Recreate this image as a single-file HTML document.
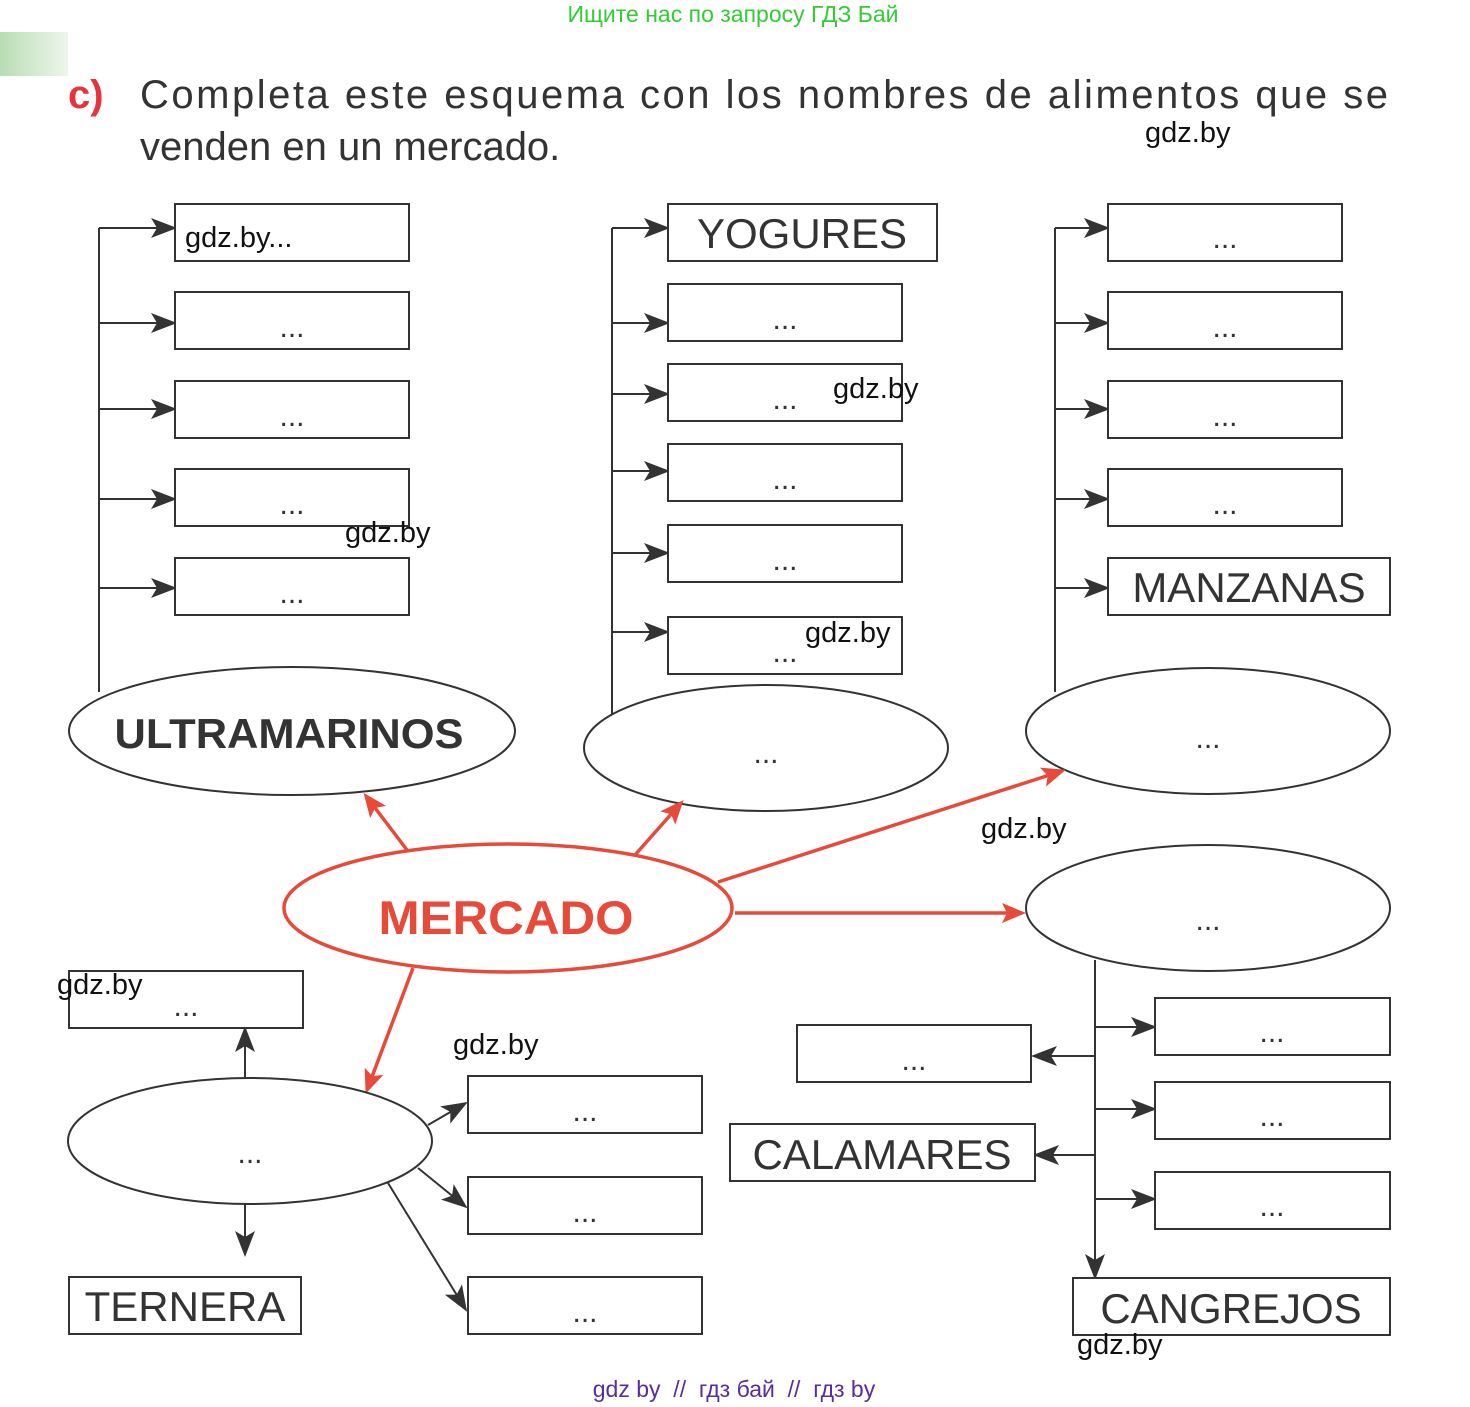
<!DOCTYPE html>
<html><head><meta charset="utf-8"><style>
html,body{margin:0;padding:0;background:#fff;}
svg{display:block;}
text{font-family:"Liberation Sans",Arial,sans-serif;}
</style></head><body>
<svg width="1470" height="1407" viewBox="0 0 1470 1407" xmlns="http://www.w3.org/2000/svg">
<defs>
<linearGradient id="g" x1="0" x2="1"><stop offset="0" stop-color="#b9dcb4"/><stop offset="1" stop-color="#eef6ec"/></linearGradient>
<marker id="ra" markerWidth="24" markerHeight="24" refX="20" refY="10" orient="auto" markerUnits="userSpaceOnUse" viewBox="0 0 24 20"><path d="M0,0 L24,10 L0,20 L5,10 z" fill="#e84a3a"/></marker>
<marker id="ka" markerWidth="26" markerHeight="22" refX="24" refY="10" orient="auto" markerUnits="userSpaceOnUse" viewBox="0 0 26 20"><path d="M0,0 L26,10 L0,20 L6,10 z" fill="#333"/></marker>
</defs>
<style>
.k{stroke:#333;stroke-width:2;fill:none}
.b{stroke:#333;stroke-width:2;fill:#fff}
.r{stroke:#e84a3a;stroke-width:3.5;fill:none}
.d{font-size:30px;fill:#333;text-anchor:middle}
.w{font-size:29px;fill:#111}
.L{font-size:42px;fill:#333;text-anchor:middle}
</style>
<rect x="0" y="32" width="68" height="44" fill="url(#g)"/>
<text x="733" y="22" font-size="23" fill="#33cc33" text-anchor="middle">Ищите нас по запросу ГДЗ Бай</text>
<text x="68" y="108" font-size="40" font-weight="bold" fill="#e8323c">c)</text>
<text x="140" y="108" font-size="40" fill="#333" textLength="1248" lengthAdjust="spacing">Completa  este esquema con los nombres de alimentos que se</text>
<text x="140" y="160" font-size="40" fill="#333">venden en un mercado.</text>

<path class="k" d="M99,228 V692"/>
<path class="k" d="M99,228 H175" marker-end="url(#ka)"/><path class="k" d="M99,323 H175" marker-end="url(#ka)"/><path class="k" d="M99,409 H175" marker-end="url(#ka)"/><path class="k" d="M99,499 H175" marker-end="url(#ka)"/><path class="k" d="M99,588 H175" marker-end="url(#ka)"/>
<rect class="b" x="175" y="204" width="234" height="57"/><rect class="b" x="175" y="292" width="234" height="57"/><rect class="b" x="175" y="381" width="234" height="57"/><rect class="b" x="175" y="469" width="234" height="57"/><rect class="b" x="175" y="558" width="234" height="57"/>
<text class="w" x="185" y="247">gdz.by...</text>
<text class="d" x="292" y="337">...</text><text class="d" x="292" y="426">...</text><text class="d" x="292" y="514">...</text><text class="d" x="292" y="603">...</text>
<ellipse class="b" cx="292" cy="731" rx="223" ry="64"/>
<text x="289" y="748" font-size="42" font-weight="bold" fill="#333" text-anchor="middle" textLength="349" lengthAdjust="spacingAndGlyphs">ULTRAMARINOS</text>

<path class="k" d="M612,228 V714"/>
<path class="k" d="M612,228 H668" marker-end="url(#ka)"/><path class="k" d="M612,323 H668" marker-end="url(#ka)"/><path class="k" d="M612,394 H668" marker-end="url(#ka)"/><path class="k" d="M612,471 H668" marker-end="url(#ka)"/><path class="k" d="M612,553 H668" marker-end="url(#ka)"/><path class="k" d="M612,632 H668" marker-end="url(#ka)"/>
<rect class="b" x="668" y="204" width="269" height="57"/><rect class="b" x="668" y="284" width="234" height="57"/><rect class="b" x="668" y="364" width="234" height="57"/><rect class="b" x="668" y="444" width="234" height="57"/><rect class="b" x="668" y="525" width="234" height="57"/><rect class="b" x="668" y="617" width="234" height="57"/>
<text class="L" x="802" y="248">YOGURES</text>
<text class="d" x="785" y="329">...</text><text class="d" x="785" y="409">...</text><text class="d" x="785" y="489">...</text><text class="d" x="785" y="570">...</text><text class="d" x="785" y="662">...</text>
<ellipse class="b" cx="766" cy="748" rx="182" ry="63"/>
<text class="d" x="766" y="763">...</text>

<path class="k" d="M1055,228 V692"/>
<path class="k" d="M1055,228 H1108" marker-end="url(#ka)"/><path class="k" d="M1055,323 H1108" marker-end="url(#ka)"/><path class="k" d="M1055,409 H1108" marker-end="url(#ka)"/><path class="k" d="M1055,499 H1108" marker-end="url(#ka)"/><path class="k" d="M1055,588 H1108" marker-end="url(#ka)"/>
<rect class="b" x="1108" y="204" width="234" height="57"/><rect class="b" x="1108" y="292" width="234" height="57"/><rect class="b" x="1108" y="381" width="234" height="57"/><rect class="b" x="1108" y="469" width="234" height="57"/><rect class="b" x="1108" y="558" width="282" height="57"/>
<text class="d" x="1225" y="248">...</text><text class="d" x="1225" y="337">...</text><text class="d" x="1225" y="426">...</text><text class="d" x="1225" y="514">...</text>
<text class="L" x="1249" y="602">MANZANAS</text>
<ellipse class="b" cx="1208" cy="731" rx="182" ry="63"/>
<text class="d" x="1208" y="748">...</text>

<ellipse cx="508" cy="908" rx="224" ry="64" fill="#fff" stroke="#e84a3a" stroke-width="3.5"/>
<text x="506" y="934" font-size="47" font-weight="bold" fill="#e84a3a" text-anchor="middle" textLength="255" lengthAdjust="spacingAndGlyphs">MERCADO</text>
<path class="r" d="M407,850 L366,796" marker-end="url(#ra)"/>
<path class="r" d="M635,855 L681,803" marker-end="url(#ra)"/>
<path class="r" d="M718,882 L1062,771" marker-end="url(#ra)"/>
<path class="r" d="M735,913 L1022,913" marker-end="url(#ra)"/>
<path class="r" d="M413,968 L367,1090" marker-end="url(#ra)"/>

<ellipse class="b" cx="1208" cy="908" rx="182" ry="63"/>
<text class="d" x="1208" y="930">...</text>
<path class="k" d="M1095,960 V1278" marker-end="url(#ka)"/>
<path class="k" d="M1095,1027 H1155" marker-end="url(#ka)"/><path class="k" d="M1095,1109 H1155" marker-end="url(#ka)"/><path class="k" d="M1095,1199 H1155" marker-end="url(#ka)"/>
<path class="k" d="M1095,1056 H1033" marker-end="url(#ka)"/><path class="k" d="M1095,1155 H1035" marker-end="url(#ka)"/>
<rect class="b" x="1155" y="998" width="235" height="57"/><rect class="b" x="1155" y="1082" width="235" height="57"/><rect class="b" x="1155" y="1172" width="235" height="57"/>
<text class="d" x="1272" y="1042">...</text><text class="d" x="1272" y="1126">...</text><text class="d" x="1272" y="1216">...</text>
<rect class="b" x="797" y="1025" width="234" height="57"/><text class="d" x="914" y="1070">...</text>
<rect class="b" x="730" y="1124" width="305" height="57"/><text class="L" x="882" y="1169">CALAMARES</text>
<rect class="b" x="1073" y="1278" width="317" height="57"/><text class="L" x="1231" y="1323">CANGREJOS</text>

<ellipse class="b" cx="250" cy="1141" rx="182" ry="63"/>
<text class="d" x="250" y="1163">...</text>
<path class="k" d="M245,1078 V1028" marker-end="url(#ka)"/>
<path class="k" d="M245,1204 V1255" marker-end="url(#ka)"/>
<rect class="b" x="69" y="971" width="234" height="57"/><text class="d" x="186" y="1016">...</text>
<rect class="b" x="69" y="1277" width="232" height="57"/><text class="L" x="185" y="1321">TERNERA</text>
<path class="k" d="M428,1125 L466,1103" marker-end="url(#ka)"/>
<path class="k" d="M418,1168 L466,1207" marker-end="url(#ka)"/>
<path class="k" d="M388,1183 L466,1310" marker-end="url(#ka)"/>
<rect class="b" x="468" y="1076" width="234" height="57"/><rect class="b" x="468" y="1177" width="234" height="57"/><rect class="b" x="468" y="1277" width="234" height="57"/>
<text class="d" x="585" y="1121">...</text><text class="d" x="585" y="1222">...</text><text class="d" x="585" y="1322">...</text>

<text class="w" x="1145" y="142">gdz.by</text>
<text class="w" x="833" y="398">gdz.by</text>
<text class="w" x="345" y="542">gdz.by</text>
<text class="w" x="805" y="642">gdz.by</text>
<text class="w" x="981" y="838">gdz.by</text>
<text class="w" x="57" y="994">gdz.by</text>
<text class="w" x="453" y="1054">gdz.by</text>
<text class="w" x="1077" y="1354">gdz.by</text>
<text x="734" y="1397" font-size="23" fill="#5a2d9c" text-anchor="middle">gdz by&#160;&#160;//&#160;&#160;гдз бай&#160;&#160;//&#160;&#160;гдз by</text>
</svg>
</body></html>
